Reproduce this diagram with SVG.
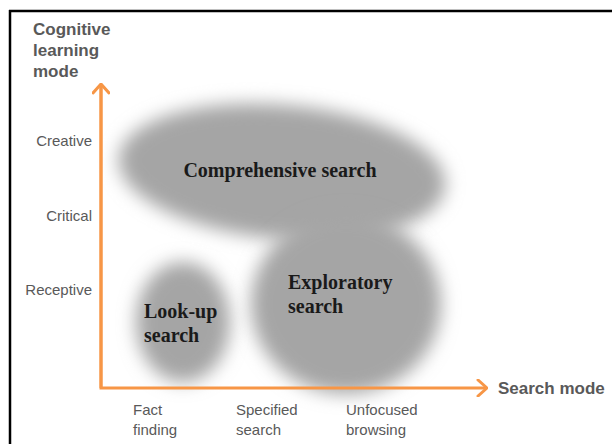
<svg xmlns="http://www.w3.org/2000/svg" width="612" height="444" viewBox="0 0 612 444">
<style>
.lab{font-family:"Liberation Sans",Arial,sans-serif;font-size:15px;fill:#595959}
.axt{font-family:"Liberation Sans",Arial,sans-serif;font-size:17px;font-weight:bold;fill:#595959}
.nt{font-family:"Liberation Serif","Times New Roman",serif;font-size:20px;font-weight:bold;fill:#1a1a1a}
.blob{fill:#a5a5a5;filter:url(#blur)}
.axis{stroke:#F79646;stroke-width:3;fill:none}
</style>
<defs>
<filter id="blur" x="-30%" y="-30%" width="160%" height="160%"><feGaussianBlur stdDeviation="9"/></filter>
<marker id="arr" viewBox="0 0 12 18" refX="11" refY="9" markerWidth="12" markerHeight="18" markerUnits="userSpaceOnUse" orient="auto">
<polyline points="2,1 11,9 2,17" fill="none" stroke="#F79646" stroke-width="3" stroke-linecap="round" stroke-linejoin="round"/>
</marker>
</defs>
<rect width="612" height="444" fill="#fff"/>
<g id="frame">
<line x1="9" y1="11" x2="612" y2="11" stroke="#000" stroke-width="2.5"/>
<line x1="10" y1="10" x2="10" y2="444" stroke="#000" stroke-width="2.5"/>
</g>
<g id="comprehensive">
<ellipse class="blob" cx="282" cy="172" rx="164" ry="67" transform="rotate(5 282 172)"/>
<text class="nt" x="280" y="177" text-anchor="middle">Comprehensive search</text>
</g>
<g id="exploratory">
<ellipse class="blob" cx="346" cy="304" rx="95" ry="90"/>
<text class="nt" x="288" y="289">Exploratory</text>
<text class="nt" x="288" y="313">search</text>
</g>
<g id="lookup">
<ellipse class="blob" cx="183" cy="322" rx="47" ry="60"/>
<text class="nt" x="144" y="318">Look-up</text>
<text class="nt" x="144" y="342">search</text>
</g>
<g id="connectors">
<polyline class="axis" points="101,84 101,388 487,388" marker-end="url(#arr)"/>
<line class="axis" x1="101" y1="388" x2="101" y2="84" marker-end="url(#arr)"/>
</g>
<g id="y-axis-label">
<text class="axt" x="33" y="35">Cognitive</text>
<text class="axt" x="33" y="56">learning</text>
<text class="axt" x="33" y="77">mode</text>
</g>
<g id="x-axis-label"><text class="axt" x="498" y="394">Search mode</text></g>
<g id="y-ticks">
<text class="lab" x="92" y="146" text-anchor="end">Creative</text>
<text class="lab" x="92" y="221" text-anchor="end">Critical</text>
<text class="lab" x="92" y="295" text-anchor="end">Receptive</text>
</g>
<g id="x-ticks">
<text class="lab" x="133" y="415">Fact</text>
<text class="lab" x="133" y="435">finding</text>
<text class="lab" x="236" y="415">Specified</text>
<text class="lab" x="236" y="435">search</text>
<text class="lab" x="346" y="415">Unfocused</text>
<text class="lab" x="346" y="435">browsing</text>
</g>
</svg>
